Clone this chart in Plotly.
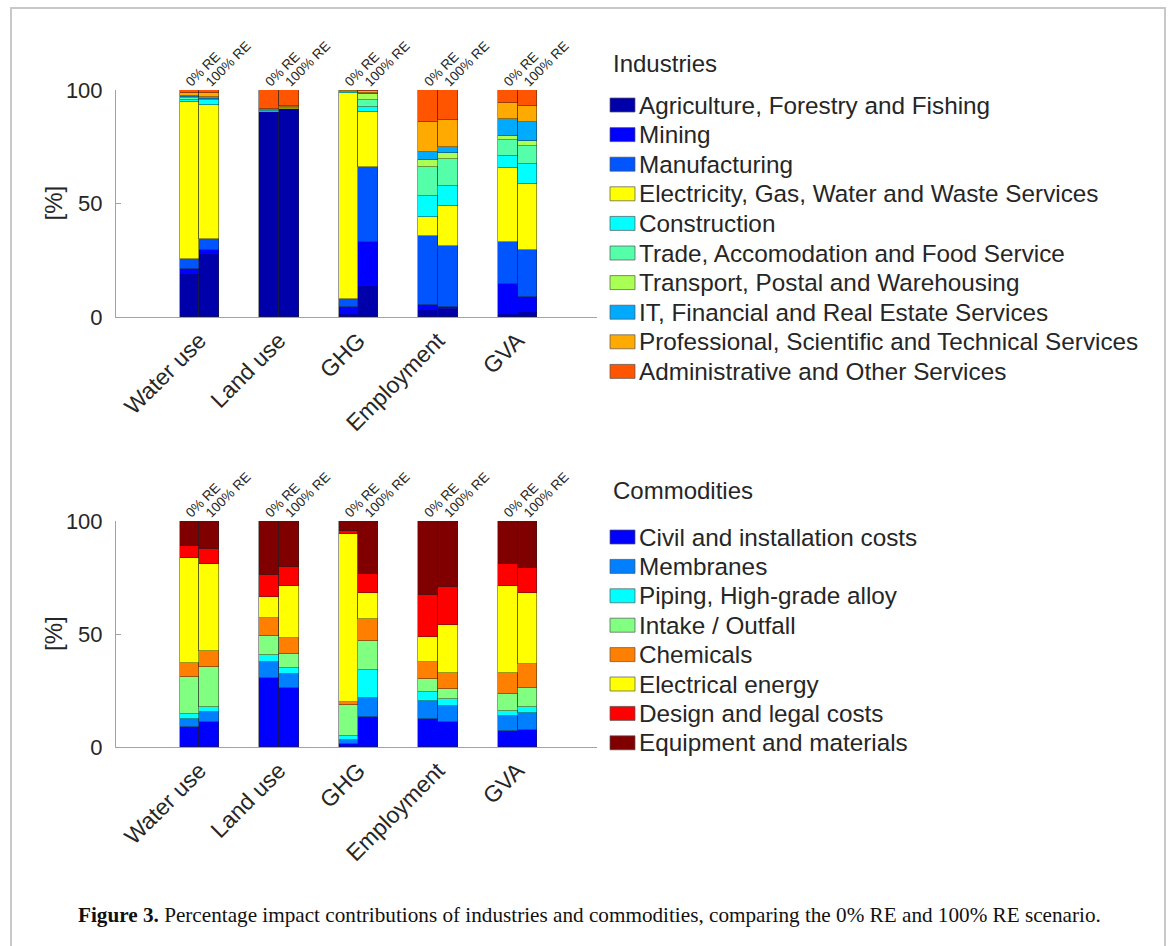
import plotly.graph_objects as go

# ---------------------------------------------------------------- data
metrics = ["Water use", "Land use", "GHG", "Employment", "GVA"]
scenarios = ["0% RE", "100% RE"]

industries = [
    "Agriculture, Forestry and Fishing",
    "Mining",
    "Manufacturing",
    "Electricity, Gas, Water and Waste Services",
    "Construction",
    "Trade, Accomodation and Food Service",
    "Transport, Postal and Warehousing",
    "IT, Financial and Real Estate Services",
    "Professional, Scientific and Technical Services",
    "Administrative and Other Services",
]
industry_colors = ["#0000AA", "#0000FF", "#0055FF", "#FFFF00", "#00FFFF",
                   "#55FFAA", "#AAFF55", "#00AAFF", "#FFAA00", "#FF5500"]

# shares [%] per industry, columns follow `metrics`
industry_0re = [
    [18.8, 90.1, 1.2, 2.9, 1.5],
    [2.3, 0.1, 3.2, 2.2, 13.2],
    [4.4, 0.2, 3.5, 30.8, 18.3],
    [69.0, 0.5, 91.0, 8.1, 32.5],
    [1.2, 0.1, 0.1, 9.2, 5.6],
    [0.7, 0.1, 0.2, 12.8, 6.9],
    [0.3, 0.1, 0.2, 3.2, 1.9],
    [0.8, 0.1, 0.2, 3.4, 7.3],
    [1.3, 0.5, 0.2, 13.4, 6.9],
    [1.2, 8.2, 0.2, 14.0, 5.9],
]
industry_100re = [
    [27.6, 91.6, 13.5, 3.5, 2.2],
    [1.8, 0.1, 19.5, 0.8, 6.6],
    [5.1, 0.1, 33.3, 26.9, 20.8],
    [59.0, 0.3, 23.8, 17.6, 29.0],
    [1.9, 0.1, 2.5, 9.1, 8.8],
    [0.5, 0.1, 3.0, 11.7, 7.8],
    [0.3, 0.1, 2.6, 2.5, 2.5],
    [0.8, 0.1, 0.6, 3.0, 8.1],
    [1.9, 0.4, 0.7, 11.7, 7.3],
    [1.1, 7.1, 0.5, 13.2, 6.9],
]

commodities = [
    "Civil and installation costs",
    "Membranes",
    "Piping, High-grade alloy",
    "Intake / Outfall",
    "Chemicals",
    "Electrical energy",
    "Design and legal costs",
    "Equipment and materials",
]
commodity_colors = ["#0000FF", "#0080FF", "#00FFFF", "#80FF80",
                    "#FF8000", "#FFFF00", "#FF0000", "#800000"]

commodity_0re = [
    [8.7, 30.5, 1.5, 12.4, 6.9],
    [3.7, 7.3, 1.7, 7.8, 6.6],
    [2.0, 3.0, 1.5, 4.1, 2.6],
    [16.4, 8.5, 14.0, 5.9, 7.3],
    [6.3, 8.0, 1.3, 7.6, 9.3],
    [46.4, 9.0, 74.3, 10.7, 38.6],
    [5.6, 9.8, 1.3, 18.8, 9.7],
    [10.9, 23.9, 4.4, 32.7, 19.0],
]
commodity_100re = [
    [10.9, 26.1, 13.1, 10.9, 7.7],
    [4.4, 6.2, 8.8, 7.1, 7.3],
    [2.4, 2.6, 12.3, 3.4, 2.7],
    [17.6, 6.3, 12.5, 4.4, 8.4],
    [7.4, 7.0, 9.9, 6.9, 10.6],
    [38.2, 23.2, 11.4, 21.3, 31.3],
    [6.6, 8.4, 8.6, 16.7, 11.1],
    [12.5, 20.2, 23.4, 29.3, 20.9],
]

caption = ("<b>Figure 3.</b> Percentage impact contributions of industries and "
           "commodities, comparing the 0% RE and 100% RE scenario.")

# ---------------------------------------------------------------- layout helpers
W, H = 1170, 946
PL, PR, PT, PB = 116, 597, 90, 747          # plot-area box in pixels


def fx(px):
    return (px - PL) / (PR - PL)


def fy(py):
    return (PB - py) / (PB - PT)


BAR_W = 0.25
centres = list(range(1, len(metrics) + 1))
x_pos = []
for c in centres:
    x_pos += [c - BAR_W / 2, c + BAR_W / 2]
x_lab = [s for _ in metrics for s in scenarios]
XR = [-0.05, 6.0]

SANS = "Liberation Sans, Arial, Helvetica, sans-serif"
INK = "#262626"
AXC = "#a3a3a3"

fig = go.Figure()


def add_stack(names, colors, share0, share100, xa, ya):
    for name, col, a, b in zip(names, colors, share0, share100):
        y = []
        for v0, v1 in zip(a, b):
            y += [v0, v1]
        fig.add_trace(go.Bar(
            x=x_pos, y=y, width=BAR_W, name=name, showlegend=False,
            marker=dict(color=col, line=dict(color="rgba(30,30,30,0.75)", width=0.6)),
            xaxis=xa, yaxis=ya,
            hovertemplate=name + "<br>%{y:.1f}%<extra></extra>",
        ))


add_stack(industries, industry_colors, industry_0re, industry_100re, "x", "y")
add_stack(commodities, commodity_colors, commodity_0re, commodity_100re, "x2", "y2")

# invisible anchors so the scenario axes on top of each panel are rendered
for xa, ya in (("x3", "y"), ("x4", "y2")):
    fig.add_trace(go.Scatter(x=x_pos, y=[0] * len(x_pos), mode="markers",
                             marker=dict(opacity=0), hoverinfo="skip",
                             showlegend=False, xaxis=xa, yaxis=ya))

top_dom = [(PB - 317) / (PB - PT), 1.0]
bot_dom = [0.0, (PB - 521) / (PB - PT)]

cat_axis = dict(range=XR, tickvals=centres, ticktext=metrics, tickangle=-45,
                tickfont=dict(family=SANS, size=23, color=INK), ticks="",
                showline=True, linecolor=AXC, linewidth=1, showgrid=False,
                zeroline=False, fixedrange=True)
scen_axis = dict(range=XR, tickvals=x_pos, ticktext=x_lab, tickangle=-45, side="top",
                 tickfont=dict(family=SANS, size=13.5, color=INK), ticks="",
                 ticklabelstandoff=-3, ticklabelshift=-3,
                 showline=False, showgrid=False, zeroline=False, fixedrange=True)
val_axis = dict(range=[0, 100], tickvals=[0, 50, 100], ticks="inside", ticklen=5,
                tickcolor=AXC, ticklabelstandoff=8,
                tickfont=dict(family=SANS, size=22, color=INK),
                showline=True, linecolor=AXC, linewidth=1, showgrid=False,
                zeroline=False, fixedrange=True)

annotations = []
shapes = [dict(type="rect", xref="paper", yref="paper",
               x0=fx(11), x1=fx(1165), y0=fy(980), y1=fy(8),
               line=dict(color="#c8c8c8", width=2), fillcolor="rgba(0,0,0,0)",
               layer="below")]

# y-axis titles of both panels
for centre_y in ((90 + 317) / 2, (521 + 747) / 2):
    annotations.append(dict(text="[%]", x=fx(53), y=fy(centre_y), xref="paper",
                            yref="paper", textangle=-90, xanchor="center",
                            yanchor="middle", showarrow=False,
                            font=dict(family=SANS, size=24, color=INK)))


def add_key(title, names, colors, title_y, first_y, step):
    annotations.append(dict(text=title, x=fx(611), y=fy(title_y), xref="paper",
                            yref="paper", xanchor="left", yanchor="middle",
                            showarrow=False,
                            font=dict(family=SANS, size=24, color=INK)))
    for k, (name, col) in enumerate(zip(names, colors)):
        cy = first_y + k * step
        shapes.append(dict(type="rect", xref="paper", yref="paper",
                           x0=fx(610), x1=fx(635), y0=fy(cy + 7), y1=fy(cy - 7),
                           fillcolor=col, line=dict(color="#555555", width=0.7)))
        annotations.append(dict(text=name, x=fx(637), y=fy(cy), xref="paper",
                                yref="paper", xanchor="left", yanchor="middle",
                                showarrow=False,
                                font=dict(family=SANS, size=24.3, color=INK)))


add_key("Industries", industries, industry_colors, 63, 105, 29.6)
add_key("Commodities", commodities, commodity_colors, 490, 537, 29.4)

annotations.append(dict(text=caption, x=fx(589), y=fy(915), xref="paper",
                        yref="paper", xanchor="center", yanchor="middle",
                        showarrow=False,
                        font=dict(family="Liberation Serif, Times New Roman, serif",
                                  size=21.2, color="#111111")))

fig.update_layout(
    width=W, height=H,
    margin=dict(l=PL, r=W - PR, t=PT, b=H - PB, autoexpand=False),
    paper_bgcolor="white", plot_bgcolor="white",
    barmode="stack", bargap=0,
    xaxis=dict(domain=[0, 1], anchor="y", **cat_axis),
    yaxis=dict(domain=top_dom, anchor="x", **val_axis),
    xaxis2=dict(domain=[0, 1], anchor="y2", **cat_axis),
    yaxis2=dict(domain=bot_dom, anchor="x2", **val_axis),
    xaxis3=dict(overlaying="x", anchor="y", **scen_axis),
    xaxis4=dict(overlaying="x2", anchor="y2", **scen_axis),
    shapes=shapes, annotations=annotations,
    showlegend=False,
)

fig.write_html("out.html")
